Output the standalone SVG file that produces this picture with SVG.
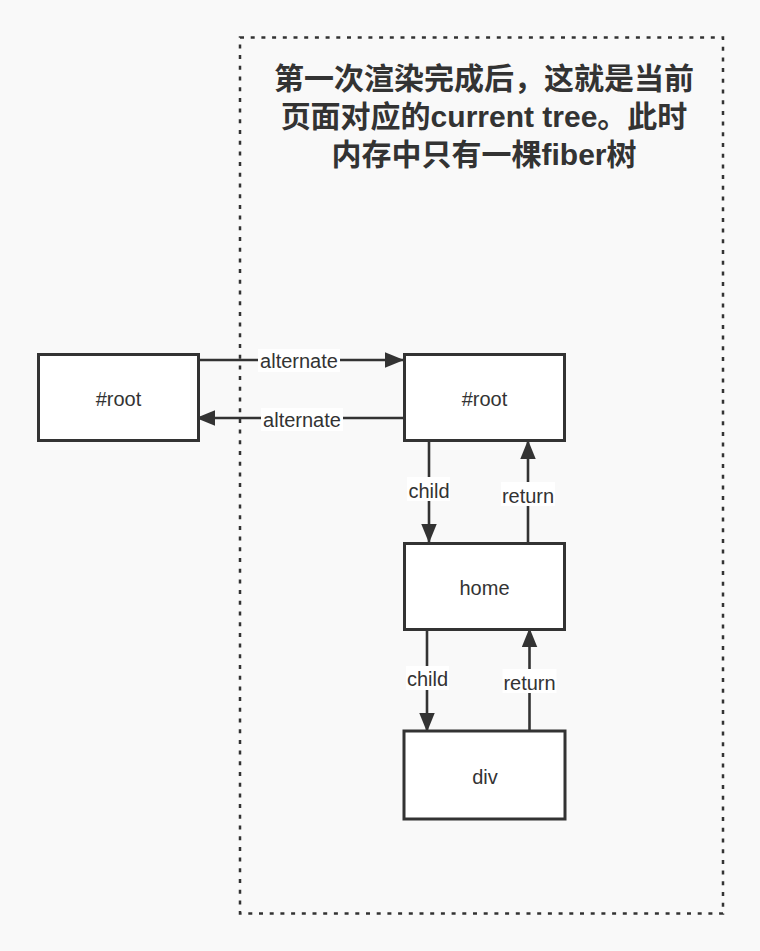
<svg xmlns="http://www.w3.org/2000/svg" width="760" height="951" viewBox="0 0 760 951">
<style>
.node rect{fill:#ffffff;stroke:#333333;stroke-width:3}
.node text,.lbl text{font-family:"Liberation Sans","Noto Sans",Arial,sans-serif;font-size:20px;fill:#333333;text-anchor:middle}
.edge{stroke:#333333;stroke-width:2.6;fill:none;marker-end:url(#arrow)}
.lbl rect{fill:#ffffff}
.title{font-family:"Liberation Sans","Noto Sans CJK SC",sans-serif;font-size:30px;font-weight:700;fill:#333333;text-anchor:middle}
</style>
<defs>
<marker id="arrow" markerUnits="userSpaceOnUse" markerWidth="20" markerHeight="16" refX="19" refY="7.75" orient="auto" viewBox="0 0 20 16">
<path d="M0,0 L19,7.75 L0,15.5 z" fill="#333333"/>
</marker>
</defs>
<rect x="0" y="0" width="760" height="951" fill="#f9f9f9"/>
<g id="group-frame">
<rect x="240" y="37.5" width="483" height="876" fill="none" stroke="#333333" stroke-width="2.5" stroke-dasharray="4 6.7"/>
<text class="title" x="484" y="89">第一次渲染完成后，这就是当前</text>
<text class="title" x="484" y="127">页面对应的current tree。此时</text>
<text class="title" x="484" y="165">内存中只有一棵fiber树</text>
</g>
<g id="connectors">
<path class="edge" d="M200,360 L404,360"/>
<path class="edge" d="M403,418 L196,418"/>
<path class="edge" d="M429,442 L429,543"/>
<path class="edge" d="M528,542 L528,440"/>
<path class="edge" d="M427,631 L427,732"/>
<path class="edge" d="M529.5,730 L529.5,628"/>
<g class="lbl">
<rect x="258" y="349" width="82" height="23"/>
<text x="299" y="367.5">alternate</text>
<rect x="261" y="408" width="82" height="23"/>
<text x="302" y="426.5">alternate</text>
<rect x="407" y="477" width="43" height="24"/>
<text x="429" y="498">child</text>
<rect x="501" y="482" width="54" height="24"/>
<text x="528" y="502.5">return</text>
<rect x="406" y="666" width="43" height="24"/>
<text x="427.5" y="686">child</text>
<rect x="502.5" y="669" width="54" height="24"/>
<text x="529.5" y="690">return</text>
</g>
</g>
<g id="node-root-old" class="node">
<rect x="38.5" y="354.5" width="160" height="86"/>
<text x="118.5" y="405.5">#root</text>
</g>
<g id="node-root-current" class="node">
<rect x="404.5" y="354.5" width="160" height="86"/>
<text x="484.5" y="405.5">#root</text>
</g>
<g id="node-home" class="node">
<rect x="404.5" y="543.5" width="160" height="86"/>
<text x="484.5" y="595">home</text>
</g>
<g id="node-div" class="node">
<rect x="404" y="731" width="161" height="88"/>
<text x="485" y="784">div</text>
</g>
</svg>
